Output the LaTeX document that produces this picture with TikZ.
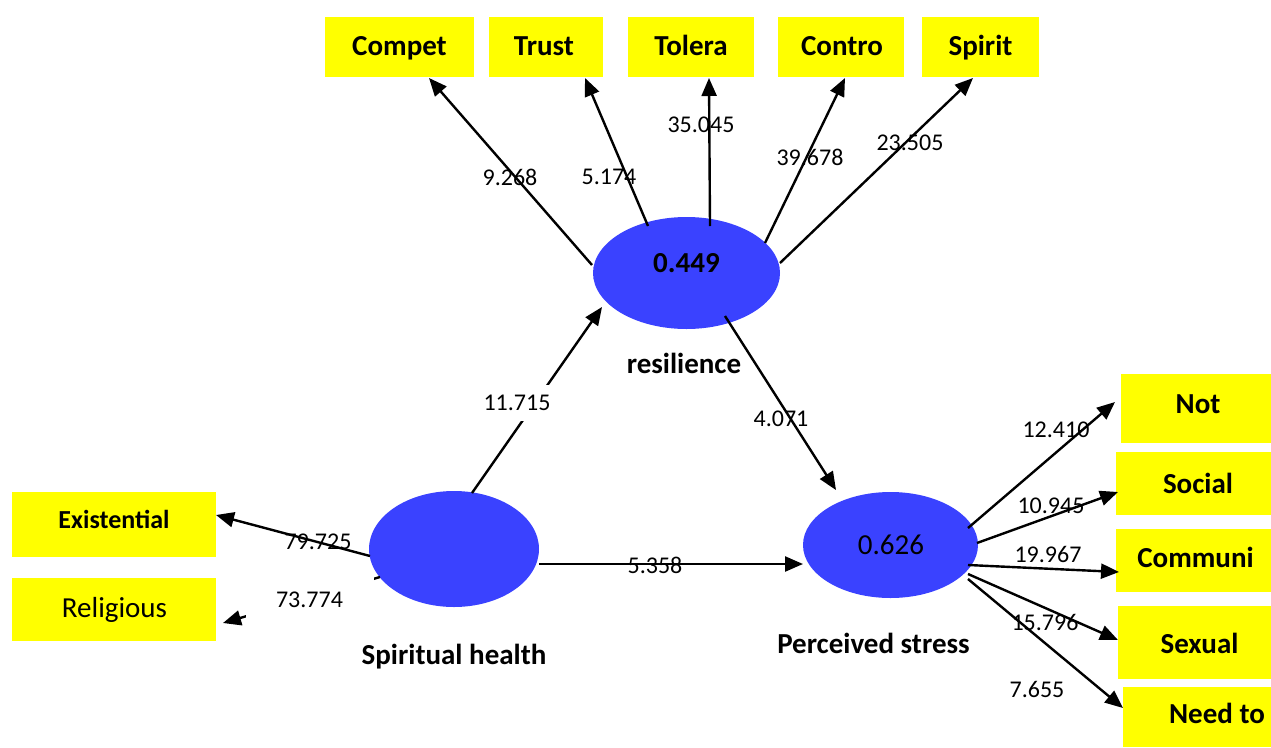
\documentclass[tikz,border=0pt]{standalone}
\usepackage{fontspec}
\setmainfont{Carlito}
\usetikzlibrary{shapes.geometric,arrows.meta,calc}
\definecolor{lvblue}{RGB}{58,66,255}
\definecolor{boxyellow}{RGB}{255,255,0}
\begin{document}
\begin{tikzpicture}[x=1pt,y=-1pt,
  ybox/.style={fill=boxyellow, draw=none, inner sep=0pt},
  lat/.style={ellipse, fill=lvblue, draw=none, inner sep=0pt},
  arr/.style={line width=2.4pt, -{Triangle[length=18pt,width=15pt]}},
  num/.style={font=\fontsize{24}{28}\selectfont, inner sep=0pt},
  numw/.style={num, fill=white, inner sep=12pt},
  blbl/.style={font=\bfseries\fontsize{29}{34}\selectfont, inner sep=0pt, anchor=base},
  rlbl/.style={font=\fontsize{29}{34}\selectfont, inner sep=0pt, anchor=base}]
\useasboundingbox (0,0) rectangle (1271,747);

% indicator boxes
\node[ybox, minimum width=149pt, minimum height=60pt] (compet) at (399.5,47) {};
\node[ybox, minimum width=114pt, minimum height=60pt] (trust) at (546,47) {};
\node[ybox, minimum width=126pt, minimum height=60pt] (tolera) at (691,47) {};
\node[ybox, minimum width=126pt, minimum height=60pt] (contro) at (841,47) {};
\node[ybox, minimum width=117pt, minimum height=60pt] (spirit) at (980.5,47) {};
\node[ybox, minimum width=204pt, minimum height=65pt] (exist) at (114,524.5) {};
\node[ybox, minimum width=204pt, minimum height=63pt] (relig) at (114,609.5) {};
\node[ybox, minimum width=150pt, minimum height=69pt] (notb) at (1196,408.5) {};
\node[ybox, minimum width=155pt, minimum height=63pt] (social) at (1193.5,483.5) {};
\node[ybox, minimum width=155pt, minimum height=63pt] (communi) at (1193.5,560.5) {};
\node[ybox, minimum width=153pt, minimum height=73pt] (sexual) at (1194.5,642.5) {};
\node[ybox, minimum width=148pt, minimum height=60pt] (need) at (1197,717) {};

\node[blbl] (competT) at ($(compet.center)+(0,8)$) {Compet};
\node[blbl] (trustT) at ($(trust.center)+(-2,8)$) {Trust};
\node[blbl] (toleraT) at ($(tolera.center)+(0,8)$) {Tolera};
\node[blbl] (controT) at ($(contro.center)+(1,8)$) {Contro};
\node[blbl] (spiritT) at ($(spirit.center)+(0,8)$) {Spirit};
\node[blbl, font=\bfseries\fontsize{26}{30}\selectfont] (existT) at ($(exist.center)+(0,3.5)$) {Existential};
\node[rlbl] (religT) at ($(relig.center)+(0.5,7.5)$) {Religious};
\node[blbl] (notT) at ($(notb.center)+(2,4.5)$) {Not};
\node[blbl] (socialT) at ($(social.center)+(4.5,9.5)$) {Social};
\node[blbl] (communiT) at ($(communi.center)+(2,6.5)$) {Communi};
\node[blbl] (sexualT) at ($(sexual.center)+(5,10.5)$) {Sexual};
\node[blbl] (needT) at ($(need.center)+(20,6)$) {Need to};

% latent variables
\node[lat, minimum width=187pt, minimum height=112pt] (res) at (686.5,273) {};
\node[lat, minimum width=170pt, minimum height=116pt] (sp) at (454,549) {};
\node[lat, minimum width=175pt, minimum height=106pt] (ps) at (890.5,545) {};

\node[blbl] (resV) at ($(res.center)+(0,-1)$) {0.449};
\node[rlbl] (psV) at ($(ps.center)+(0.5,9)$) {0.626};

\node[blbl] (resL) at (684,373) {resilience};
\node[blbl] (spL) at (454,664) {Spiritual health};
\node[blbl] (psL) at (873.5,653) {Perceived stress};

% arrows
\draw[arr] ($(res.center)+(-94.5,-8)$) -- ($(compet.center)+(29.5,31)$);
\draw[arr] ($(res.center)+(-38.5,-47)$) -- ($(trust.center)+(39,31)$);
\draw[arr] ($(res.center)+(23.5,-47)$) -- ($(tolera.center)+(18,31)$);
\draw[arr] ($(res.center)+(78.5,-30)$) -- ($(contro.center)+(4,31)$);
\draw[arr] ($(res.center)+(93.5,-10)$) -- ($(spirit.center)+(-7.5,31)$);
\draw[arr] ($(res.center)+(38.5,43)$) -- ($(ps.center)+(-54.5,-55)$);
\draw[arr] ($(sp.center)+(18,-56)$) -- ($(res.center)+(-84.5,34)$);
\draw[arr] ($(sp.center)+(85,15)$) -- ($(ps.center)+(-87.5,19)$);
\draw[arr] ($(sp.center)+(-84,7)$) -- ($(exist.center)+(102,-9.5)$);
\draw[arr] ($(sp.center)+(-74,28)$) -- ($(relig.center)+(109,13.5)$);
\draw[arr] ($(ps.center)+(77.5,-17)$) -- ($(notb.center)+(-81,-6.5)$);
\draw[arr] ($(ps.center)+(86.5,-2)$) -- ($(social.center)+(-75.5,8.5)$);
\draw[arr] ($(ps.center)+(77.5,20)$) -- ($(communi.center)+(-74.5,11.5)$);
\draw[arr] ($(ps.center)+(77.5,29)$) -- ($(sexual.center)+(-76.5,-2.5)$);
\draw[arr] ($(ps.center)+(77.5,34)$) -- ($(need.center)+(-74,-9)$);

% path coefficients
\node[num] (n1) at (510,177) {9.268};
\node[num] (n2) at (609,177) {5.174};
\node[num] (n3) at (701,125) {35.045};
\node[num] (n4) at (810,157) {39.678};
\node[num] (n5) at (910,143) {23.505};
\node[numw, inner xsep=2pt, inner ysep=10pt] (n6) at (517,403) {11.715};
\node[num] (n7) at (781,419) {4.071};
\node[num] (n8) at (655,565) {5.358};
\node[num] (n9) at (318,542) {79.725};
\node[numw, minimum width=128pt, minimum height=48pt] (n10) at (309.5,600) {73.774};
\node[num] (n11) at (1056,430) {12.410};
\node[num] (n12) at (1051,506) {10.945};
\node[num] (n13) at (1048,554) {19.967};
\node[num] (n14) at (1045,622) {15.796};
\node[num] (n15) at (1037,689) {7.655};
\end{tikzpicture}
\end{document}
